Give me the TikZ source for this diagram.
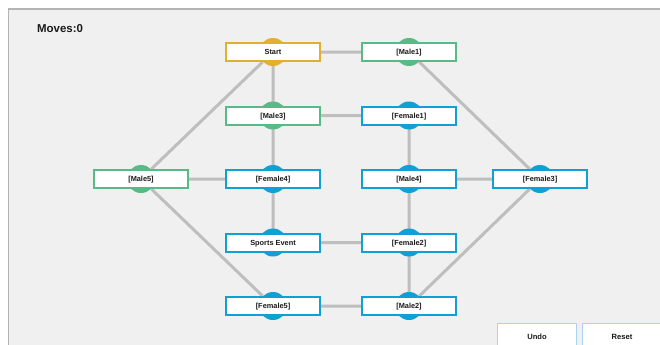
\documentclass[tikz,border=0pt]{standalone}
\usepackage{fontspec}
\setmainfont{Liberation Sans}
\usetikzlibrary{positioning}
\usetikzlibrary{backgrounds}

\definecolor{panelgray}{HTML}{F0F0F0}
\definecolor{framegray}{HTML}{B4B4B4}
\definecolor{linkgray}{HTML}{BEBEBE}
\definecolor{startgold}{HTML}{E1B02E}
\definecolor{malegreen}{HTML}{58BA87}
\definecolor{femaleblue}{HTML}{11A0D6}
\definecolor{buttonblue}{HTML}{A8D4EC}
\definecolor{inkblack}{HTML}{1A1A1A}

\tikzset{
  person/.style={draw, fill=white, line width=2bp, minimum width=94bp,
    minimum height=18bp, inner sep=0pt, text=inkblack, text height=5.3pt,
    text depth=0pt, font=\fontsize{7.4}{9}\selectfont\bfseries},
  origin/.style={person, draw=startgold},
  male/.style={person, draw=malegreen},
  female/.style={person, draw=femaleblue},
  link/.style={linkgray, line width=3bp},
  button/.style={draw=buttonblue, fill=white, line width=1bp, minimum width=79bp,
    minimum height=28bp, inner sep=0pt, text=inkblack, anchor=north west,
    font=\fontsize{7.6}{9}\selectfont\bfseries}
}

\begin{document}
\begin{tikzpicture}[node distance=43.5bp and 40bp]
    \useasboundingbox (0,0) rectangle (660bp,-345bp);

    \node (start) [origin] at (273bp,-52bp) {Start};
    \node (male1) [male, right=of start] {[Male1]};
    \node (male3) [male, below=of start] {[Male3]};
    \node (female1) [female, below=of male1] {[Female1]};
    \node (female4) [female, below=of male3] {[Female4]};
    \node (male4) [female, below=of female1] {[Male4]};
    \node (male5) [male, left=36bp of female4] {[Male5]};
    \node (female3) [female, right=35bp of male4] {[Female3]};
    \node (sports) [female, below=of female4] {Sports Event};
    \node (female2) [female, below=of male4] {[Female2]};
    \node (female5) [female, below=of sports] {[Female5]};
    \node (male2) [female, below=of female2] {[Male2]};

    \node (moves) [anchor=base west, inner sep=0pt, text=inkblack,
      font=\fontsize{11.5}{13}\selectfont\bfseries] at (37bp,-32bp) {Moves:0};

    \node (undo) [button] at (497bp,-322.5bp) {Undo};
    \node (reset) [button] at (582bp,-322.5bp) {Reset};

    \begin{scope}[on background layer]
      \fill[white] (0,0) rectangle (660bp,-345bp);
      \filldraw[fill=panelgray, draw=framegray, line width=1.2bp]
        (8.3bp,-9bp) rectangle (670bp,-355bp);

      \draw[link]
        (start) -- (male1)
        (start) -- (male3)
        (start) -- (male5)
        (male1) -- (female3)
        (male3) -- (female1)
        (male3) -- (female4)
        (female1) -- (male4)
        (male5) -- (female4)
        (male5) -- (female5)
        (female4) -- (sports)
        (male4) -- (female3)
        (male4) -- (female2)
        (sports) -- (female2)
        (female2) -- (male2)
        (female3) -- (male2)
        (female5) -- (male2)
      ;

      \foreach \who/\tint in {start/startgold, male1/malegreen, male3/malegreen,
          male5/malegreen, female1/femaleblue, female4/femaleblue, male4/femaleblue,
          female3/femaleblue, sports/femaleblue, female2/femaleblue,
          female5/femaleblue, male2/femaleblue}
        \fill[\tint] (\who) circle (14bp);
    \end{scope}
  \end{tikzpicture}
\end{document}
